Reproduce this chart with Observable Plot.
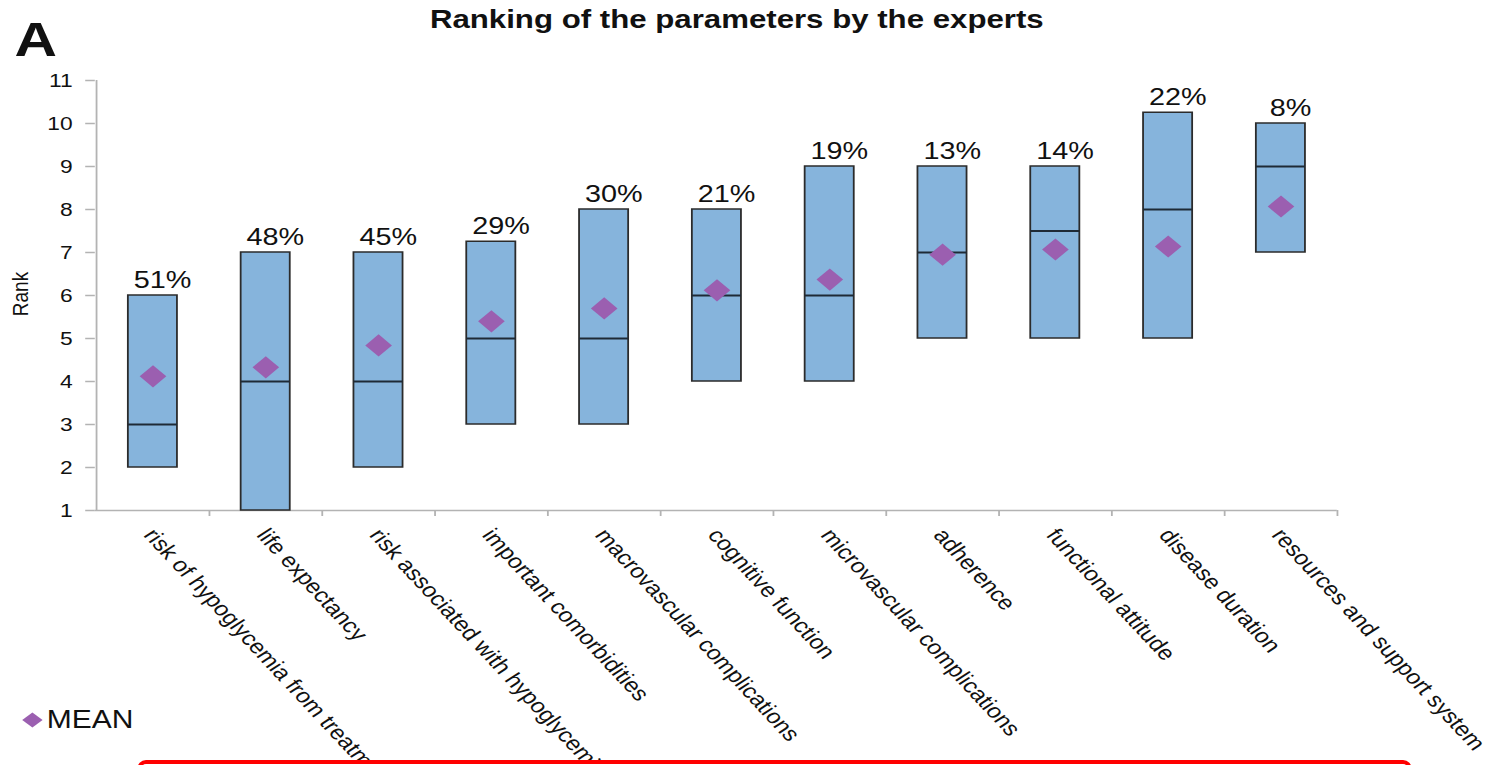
<!DOCTYPE html>
<html>
<head>
<meta charset="utf-8">
<script src="https://cdn.jsdelivr.net/npm/d3@7"></script>
<script src="https://cdn.jsdelivr.net/npm/@observablehq/plot@0.6"></script>
<style>
html,body{margin:0;padding:0;background:#fff;overflow:hidden;width:1492px;height:765px}
#wrap{position:absolute;left:0;top:0;width:1243px;height:765px;transform:scaleX(1.2);transform-origin:0 0;font-family:"Liberation Sans",Arial,sans-serif;color:#111}
#chart{position:absolute;left:0;top:0}
#title{position:absolute;top:6px;left:614px;transform:translateX(-50%);font-size:26px;font-weight:bold;line-height:1;white-space:nowrap}
#letter{position:absolute;left:12px;top:15px;font-size:49px;font-weight:bold;line-height:1}
#rank{position:absolute;left:17px;top:294px;transform:translate(-50%,-50%) rotate(-90deg);font-size:19px;line-height:1;white-space:nowrap}
#legend{position:absolute;left:18px;top:707px;font-size:25px;line-height:1;white-space:nowrap;display:flex;align-items:center}
#legend svg{margin-right:3px}
#redbox{position:absolute;left:137px;top:760px;width:1275px;height:40px;border:4px solid #ff0000;border-radius:9px;background:#fff;box-sizing:border-box}
</style>
</head>
<body>
<div id="wrap">
  <div id="chart"></div>
  <div id="title">Ranking of the parameters by the experts</div>
  <div id="letter">A</div>
  <div id="rank">Rank</div>
  <div id="legend"><svg width="18" height="16" viewBox="0 0 18 16"><polygon points="9,0.5 17.5,8 9,15.5 0.5,8" fill="#9b5fb0"/></svg><span>MEAN</span></div>
</div>
<div id="redbox"></div>
<script>
const categories = [
  "risk of hypoglycemia from treatment",
  "life expectancy",
  "risk associated with hypoglycemia",
  "important comorbidities",
  "macrovascular complications",
  "cognitive function",
  "microvascular complications",
  "adherence",
  "functional attitude",
  "disease duration",
  "resources and support system"
];
const minRank    = [2, 1, 2, 3, 3, 4, 4, 5, 5, 5, 7];
const maxRank    = [6, 7, 7, 7.25, 8, 8, 9, 9, 9, 10.25, 10];
const medianRank = [3, 4, 4, 5, 5, 6, 6, 7, 7.5, 8, 9];
const meanRank   = [4.12, 4.33, 4.84, 5.40, 5.70, 6.12, 6.37, 6.95, 7.07, 7.14, 8.07];
const pctLabels  = ["51%", "48%", "45%", "29%", "30%", "21%", "19%", "13%", "14%", "22%", "8%"];
const yTicks     = [1, 2, 3, 4, 5, 6, 7, 8, 9, 10, 11];

const rows = categories.map((c, i) => ({
  c, lo: minRank[i], hi: maxRank[i], med: medianRank[i], mean: meanRank[i], pct: pctLabels[i]
}));

const W = 1243, H = 765, mL = 79, mR = 129, mT = 80, mB = 255;
const step = (W - mL - mR) / categories.length;
const barW = 41;
const inset = (step - barW) / 2;
const axisGray = "#b3b3b3";
const pxPerUnit = (H - mT - mB) / (yTicks[yTicks.length - 1] - yTicks[0]);

const chart = Plot.plot({
  width: W,
  height: H,
  marginLeft: mL,
  marginRight: mR,
  marginTop: mT,
  marginBottom: mB,
  style: {fontFamily: "Liberation Sans, Arial, sans-serif", color: "#111", background: "transparent", overflow: "hidden"},
  x: {domain: categories, padding: 0, axis: null},
  y: {domain: [1, 11], axis: null},
  marks: [
    Plot.ruleY([1], {stroke: axisGray, strokeWidth: 1.5}),
    Plot.ruleX([categories[0]], {x: d => d, dx: -step / 2, y1: 1, y2: 11, stroke: axisGray, strokeWidth: 1.5}),
    Plot.ruleX(categories, {x: d => d, dx: step / 2, y1: 1, y2: 1 - 6 / pxPerUnit, stroke: axisGray, strokeWidth: 1.5}),
    Plot.axisY({ticks: yTicks, tickSize: 8, tickPadding: 11, fontSize: 19, stroke: axisGray, strokeWidth: 1.5, fill: "#111", tickFormat: d => String(d)}),
    Plot.barY(rows, {x: "c", y1: "lo", y2: "hi", fill: "#86b4dc", stroke: "#2b2b2b", strokeWidth: 1.5, insetLeft: inset, insetRight: inset}),
    Plot.tickY(rows, {x: "c", y: "med", stroke: "#1e2a36", strokeWidth: 2, insetLeft: inset, insetRight: inset}),
    Plot.dot(rows, {x: "c", y: "mean", symbol: "diamond2", r: 10, fill: "#9b5fb0"}),
    Plot.text(rows, {x: "c", y: "hi", text: "pct", dx: 8, dy: -8, lineAnchor: "bottom", fontSize: 24, fill: "#111"}),
    Plot.text(categories, {x: d => d, frameAnchor: "bottom", text: d => d, rotate: 52, textAnchor: "start", lineAnchor: "top", dx: 3, dy: 16, fontSize: 20.5, fill: "#111"})
  ]
});
document.getElementById("chart").appendChild(chart);
</script>
</body>
</html>
